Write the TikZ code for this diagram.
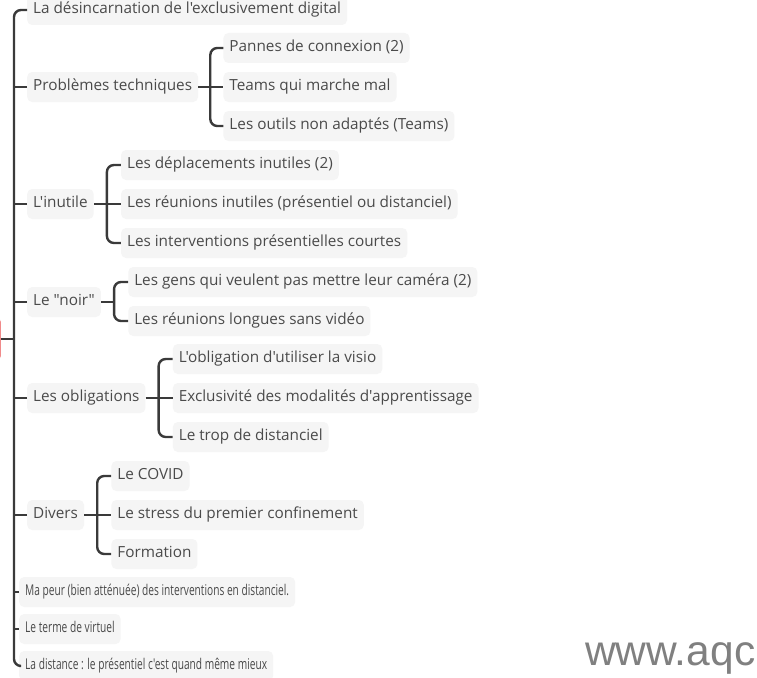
\documentclass[tikz,border=0pt]{standalone}
\usepackage{fontspec}
\setmainfont{Open Sans}[Ligatures=TeXOff]
\newfontfamily\wmfont{Liberation Sans}
\usetikzlibrary{calc}
\definecolor{boxgray}{HTML}{F5F5F5}
\definecolor{txtgray}{HTML}{4A4A4A}
\definecolor{linegray}{HTML}{3A3A3A}
\definecolor{rootred}{HTML}{F08A8A}
\tikzset{
  topic/.style={anchor=west, fill=boxgray, rounded corners=5pt, inner xsep=6pt, inner ysep=0pt,
    minimum height=30pt, text=txtgray, font=\fontsize{15.3}{17}\selectfont,
    text height=11pt, text depth=3.5pt},
  conn/.style={draw=linegray, line width=2.4pt, rounded corners=7pt},
}
\newcommand{\narrow}[1]{\scalebox{0.665}[0.97]{#1}}
\begin{document}
\begin{tikzpicture}[x=1pt,y=-1pt]
\useasboundingbox (0,0) rectangle (757,677);
\fill[white] (0,0) rectangle (757,677);
\begin{scope}
\clip (0,0) rectangle (757,677);
\node[draw=rootred, line width=1.6pt, fill=white, rounded corners=5pt, minimum width=100pt, minimum height=44pt, anchor=east] (root) at (0.8,339) {};
\end{scope}
\coordinate (m) at (14,339);
% level 1
\node[topic] (a1) at (27,10) {La désincarnation de l'exclusivement digital};
\node[topic] (a2) at (27,87) {Problèmes techniques};
\node[topic] (a3) at (27,204) {L'inutile};
\node[topic] (a4) at (27,302) {Le "noir"};
\node[topic] (a5) at (27,398) {Les obligations};
\node[topic] (a6) at (27,515) {Divers};
\node[topic] (a7) at (19,592) {\narrow{Ma peur (bien atténuée) des interventions en distanciel.}};
\node[topic] (a8) at (19,629) {\narrow{Le terme de virtuel}};
\node[topic] (a9) at (19,666) {\narrow{La distance : le présentiel c'est quand même mieux}};
% Problèmes techniques
\node[topic] (b1) at ($(a2.east)+(25,-39)$) {Pannes de connexion (2)};
\node[topic] (b2) at ($(a2.east)+(25,0)$) {Teams qui marche mal};
\node[topic] (b3) at ($(a2.east)+(25,39)$) {Les outils non adaptés (Teams)};
% L'inutile
\node[topic] (c1) at ($(a3.east)+(27,-39)$) {Les déplacements inutiles (2)};
\node[topic] (c2) at ($(a3.east)+(27,0)$) {Les réunions inutiles (présentiel ou distanciel)};
\node[topic] (c3) at ($(a3.east)+(27,39)$) {Les interventions présentielles courtes};
% noir
\node[topic] (d1) at ($(a4.east)+(27,-20)$) {Les gens qui veulent pas mettre leur caméra (2)};
\node[topic] (d2) at ($(a4.east)+(27,19)$) {Les réunions longues sans vidéo};
% obligations
\node[topic] (e1) at ($(a5.east)+(27,-39)$) {L'obligation d'utiliser la visio};
\node[topic] (e2) at ($(a5.east)+(27,0)$) {Exclusivité des modalités d'apprentissage};
\node[topic] (e3) at ($(a5.east)+(27,39)$) {Le trop de distanciel};
% Divers
\node[topic] (f1) at ($(a6.east)+(27,-39)$) {Le COVID};
\node[topic] (f2) at ($(a6.east)+(27,0)$) {Le stress du premier confinement};
\node[topic] (f3) at ($(a6.east)+(27,39)$) {Formation};
% main connectors
\draw[conn] (root.east) -- (m);
\draw[conn] (a1.west) -| (m) |- (a9.west);
\foreach \n in {a2,a3,a4,a5,a6,a7,a8} {\draw[conn] (\n.west) -- (\n.west -| m);}
% brackets
\coordinate (pb) at ($(a2.east)+(12,0)$);
\draw[conn] (b1.west) -| (pb) |- (b3.west);
\draw[conn] (a2.east) -- (b2.west);
\coordinate (pc) at ($(a3.east)+(13,0)$);
\draw[conn] (c1.west) -| (pc) |- (c3.west);
\draw[conn] (a3.east) -- (c2.west);
\coordinate (pd) at ($(a4.east)+(13,0)$);
\draw[conn] (d1.west) -| (pd) |- (d2.west);
\draw[conn] (a4.east) -- (pd);
\coordinate (pe) at ($(a5.east)+(13,0)$);
\draw[conn] (e1.west) -| (pe) |- (e3.west);
\draw[conn] (a5.east) -- (e2.west);
\coordinate (pf) at ($(a6.east)+(13,0)$);
\draw[conn] (f1.west) -| (pf) |- (f3.west);
\draw[conn] (a6.east) -- (f2.west);
% watermark
\node[anchor=base west, inner sep=0pt, text=black!50, font=\wmfont\fontsize{42.5}{46}\selectfont] (wm) at (585,665) {www.aqc};
\end{tikzpicture}
\end{document}
